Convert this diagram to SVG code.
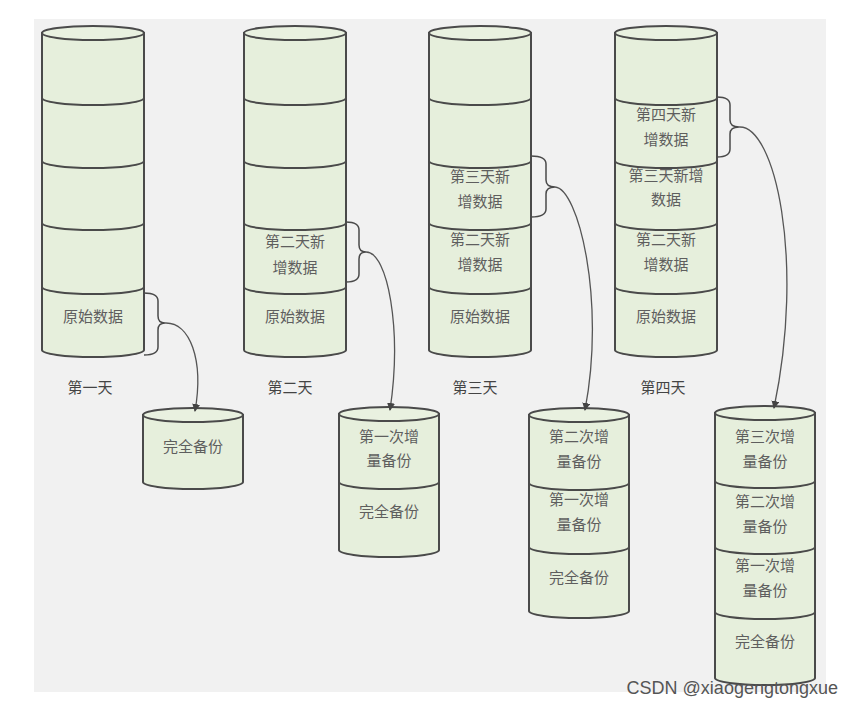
<svg xmlns="http://www.w3.org/2000/svg" width="852" height="705" viewBox="0 0 852 705">
<style>
.body{fill:#e6efdc;stroke:#4a4a4a;stroke-width:2}
.top{fill:#e9f1e0;stroke:#4a4a4a;stroke-width:2}
.div{fill:none;stroke:#4a4a4a;stroke-width:2}
.br{fill:none;stroke:#4a4a4a;stroke-width:1.5}
.con{fill:none;stroke:#555;stroke-width:1.3}
.t{font-family:"Noto Sans CJK SC","Noto Sans",sans-serif;font-size:15px;fill:#5e5e5e;text-anchor:middle}
.day{font-family:"Noto Sans CJK SC","Noto Sans",sans-serif;font-size:15px;fill:#444;text-anchor:middle}
.wm{font-family:"Liberation Sans",Arial,sans-serif;font-size:18px;fill:#555;text-anchor:end}
</style>
<defs>
<marker id="arr" markerWidth="8" markerHeight="8" refX="7" refY="4" orient="auto" markerUnits="userSpaceOnUse">
<path d="M0,0 L8,4 L0,8 Z" fill="#444"/>
</marker>
</defs>
<rect x="0" y="0" width="852" height="705" fill="#ffffff"/>
<rect x="34" y="19" width="792" height="673" fill="#f1f1f1"/>

<!-- Day 1 -->
<g id="day1">
<path class="body" d="M42,33 L42,350 A51,7 0 0 0 144,350 L144,33 Z"/>
<ellipse class="top" cx="93" cy="33" rx="51" ry="7"/>
<path class="div" d="M42,98 A51,7 0 0 0 144,98 M42,161 A51,7 0 0 0 144,161 M42,223 A51,7 0 0 0 144,223 M42,287 A51,7 0 0 0 144,287"/>
<text class="t" x="93" y="322">原始数据</text>
<text class="day" x="90" y="393">第一天</text>
</g>

<!-- Day 2 -->
<g id="day2">
<path class="body" d="M244,33 L244,350 A51,7 0 0 0 346,350 L346,33 Z"/>
<ellipse class="top" cx="295" cy="33" rx="51" ry="7"/>
<path class="div" d="M244,98 A51,7 0 0 0 346,98 M244,161 A51,7 0 0 0 346,161 M244,223 A51,7 0 0 0 346,223 M244,287 A51,7 0 0 0 346,287"/>
<text class="t" x="295" y="247">第二天新</text>
<text class="t" x="295" y="273">增数据</text>
<text class="t" x="295" y="322">原始数据</text>
<text class="day" x="290" y="393">第二天</text>
</g>

<!-- Day 3 -->
<g id="day3">
<path class="body" d="M429,33 L429,350 A51,7 0 0 0 531,350 L531,33 Z"/>
<ellipse class="top" cx="480" cy="33" rx="51" ry="7"/>
<path class="div" d="M429,98 A51,7 0 0 0 531,98 M429,161 A51,7 0 0 0 531,161 M429,223 A51,7 0 0 0 531,223 M429,287 A51,7 0 0 0 531,287"/>
<text class="t" x="480" y="182">第三天新</text>
<text class="t" x="480" y="207">增数据</text>
<text class="t" x="480" y="245">第二天新</text>
<text class="t" x="480" y="270">增数据</text>
<text class="t" x="480" y="322">原始数据</text>
<text class="day" x="475" y="393">第三天</text>
</g>

<!-- Day 4 -->
<g id="day4">
<path class="body" d="M615,33 L615,350 A51,7 0 0 0 717,350 L717,33 Z"/>
<ellipse class="top" cx="666" cy="33" rx="51" ry="7"/>
<path class="div" d="M615,98 A51,7 0 0 0 717,98 M615,161 A51,7 0 0 0 717,161 M615,223 A51,7 0 0 0 717,223 M615,287 A51,7 0 0 0 717,287"/>
<text class="t" x="666" y="120">第四天新</text>
<text class="t" x="666" y="145">增数据</text>
<text class="t" x="666" y="181">第三天新增</text>
<text class="t" x="666" y="205">数据</text>
<text class="t" x="666" y="245">第二天新</text>
<text class="t" x="666" y="270">增数据</text>
<text class="t" x="666" y="322">原始数据</text>
<text class="day" x="663" y="393">第四天</text>
</g>

<!-- Backup 1 -->
<g id="backup1">
<path class="body" d="M143,415 L143,482 A50,7 0 0 0 243,482 L243,415 Z"/>
<ellipse class="top" cx="193" cy="415" rx="50" ry="7"/>
<text class="t" x="193" y="452">完全备份</text>
</g>

<!-- Backup 2 -->
<g id="backup2">
<path class="body" d="M339,414 L339,550 A50,7 0 0 0 439,550 L439,414 Z"/>
<ellipse class="top" cx="389" cy="414" rx="50" ry="7"/>
<path class="div" d="M339,482 A50,7 0 0 0 439,482"/>
<text class="t" x="389" y="442">第一次增</text>
<text class="t" x="389" y="466">量备份</text>
<text class="t" x="389" y="517">完全备份</text>
</g>

<!-- Backup 3 -->
<g id="backup3">
<path class="body" d="M529,415 L529,611 A50,7 0 0 0 629,611 L629,415 Z"/>
<ellipse class="top" cx="579" cy="415" rx="50" ry="7"/>
<path class="div" d="M529,483 A50,7 0 0 0 629,483 M529,547 A50,7 0 0 0 629,547"/>
<text class="t" x="579" y="442">第二次增</text>
<text class="t" x="579" y="467">量备份</text>
<text class="t" x="579" y="505">第一次增</text>
<text class="t" x="579" y="530">量备份</text>
<text class="t" x="579" y="583">完全备份</text>
</g>

<!-- Backup 4 -->
<g id="backup4">
<path class="body" d="M715,413 L715,678 A50,7 0 0 0 815,678 L815,413 Z"/>
<ellipse class="top" cx="765" cy="413" rx="50" ry="7"/>
<path class="div" d="M715,481 A50,7 0 0 0 815,481 M715,547 A50,7 0 0 0 815,547 M715,612 A50,7 0 0 0 815,612"/>
<text class="t" x="765" y="442">第三次增</text>
<text class="t" x="765" y="467">量备份</text>
<text class="t" x="765" y="507">第二次增</text>
<text class="t" x="765" y="532">量备份</text>
<text class="t" x="765" y="571">第一次增</text>
<text class="t" x="765" y="596">量备份</text>
<text class="t" x="765" y="647">完全备份</text>
</g>

<!-- connectors -->
<g id="connectors">
<path class="br" d="M144,293 Q158,293 158,301 L158,316 Q158,323 165,323 Q158,323 158,330 L158,347 Q158,355 144,355"/>
<path class="br" d="M346,222 Q359,222 359,230 L359,245 Q359,252 366,252 Q359,252 359,259 L359,274 Q359,282 346,282"/>
<path class="br" d="M531,156 Q546,156 546,164 L546,180 Q546,187 555,187 Q546,187 546,194 L546,209 Q546,217 531,217"/>
<path class="br" d="M717,97 Q730,97 730,105 L730,120 Q730,127 739,127 Q730,127 730,134 L730,149 Q730,157 717,157"/>
<path class="con" marker-end="url(#arr)" d="M165,323 C190,322 204,360 195,411"/>
<path class="con" marker-end="url(#arr)" d="M366,252 C388,252 402,330 390,410"/>
<path class="con" marker-end="url(#arr)" d="M555,187 C578,188 606,300 585,410"/>
<path class="con" marker-end="url(#arr)" d="M739,127 C775,125 805,260 774,408"/>
</g>

<text class="wm" x="838" y="694">CSDN @xiaogengtongxue</text>
</svg>
